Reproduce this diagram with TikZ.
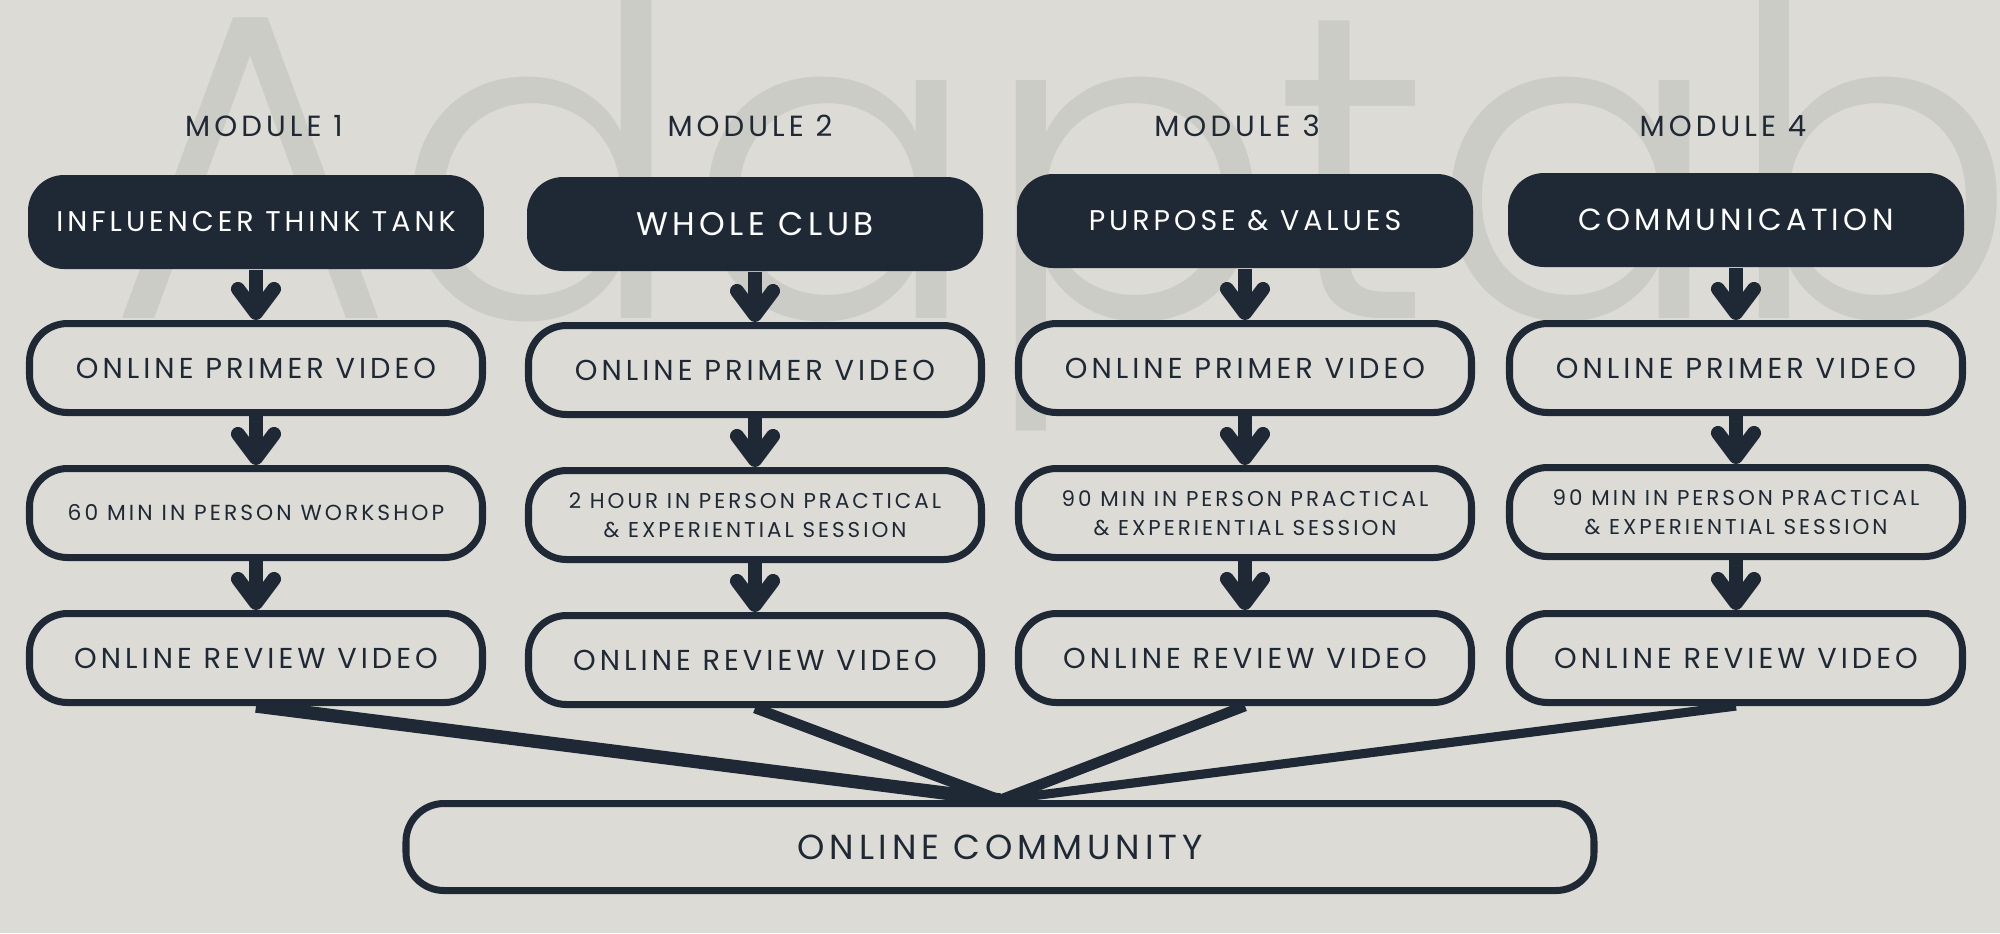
\documentclass[tikz,border=0pt]{standalone}
\usepackage{fontspec}
\setmainfont{Poppins}[LetterSpace=14]
\newfontfamily\markfont{Poppins Light}
\usetikzlibrary{arrows.meta, positioning}
\definecolor{clubnavy}{HTML}{1F2935}
\definecolor{clubpaper}{HTML}{DCDBD6}
\definecolor{clubmark}{HTML}{CBCCC5}

\begin{document}
\begin{tikzpicture}[
    x=0.1mm, y=-0.1mm,
    modtitle/.style={font=\fontsize{8.3pt}{10pt}\selectfont, text=clubnavy},
    topic/.style={fill=clubnavy, text=white, rounded corners=3.6mm, minimum width=45.6mm, minimum height=9.4mm, inner sep=0pt, font=\fontsize{8.1pt}{10pt}\selectfont},
    stepbox/.style={draw=clubnavy, line width=2pt, fill=clubpaper, text=clubnavy, rounded corners=3.8mm, minimum width=45.3mm, minimum height=8.9mm, inner sep=0pt, align=center, font=\fontsize{8.2pt}{10pt}\selectfont},
    smalltext/.style={font=\fontsize{6.1pt}{8.3pt}\selectfont},
    arrow/.style={-{Straight Barb[length=2.4mm, width=3.6mm, round]}, line width=4pt, clubnavy},
    spoke/.style={clubnavy}
]

    % --- PAPER ---
    \fill[clubpaper] (0,0) rectangle (2000,933);
    \useasboundingbox (0,0) rectangle (2000,933);
    \begin{scope}
        \clip (0,0) rectangle (2000,933);
        \node[anchor=base west, inner sep=0pt, text=clubmark, font=\markfont\fontsize{124pt}{124pt}\selectfont] (mark) at (108,318) {Adaptab};
    \end{scope}

    % --- MODULE TITLES ---
    \node[modtitle] (mod1) at (264,126) {MODULE 1};
    \node[modtitle] (mod2) at (750,126) {MODULE 2};
    \node[modtitle] (mod3) at (1237,126) {MODULE 3};
    \node[modtitle] (mod4) at (1723,126) {MODULE 4};

    % --- TOPICS ---
    \node[topic] (topic1) at (256,222) {INFLUENCER THINK TANK};
    \node[topic, font=\fontsize{9.3pt}{11pt}\selectfont] (topic2) at (755,224) {WHOLE CLUB};
    \node[topic] (topic3) at (1245,221) {PURPOSE \& VALUES};
    \node[topic, font=\fontsize{8.7pt}{10pt}\selectfont] (topic4) at (1736,220) {COMMUNICATION};

    % --- PRIMER VIDEOS ---
    \node[stepbox] (primer1) at (256,368) {ONLINE PRIMER VIDEO};
    \node[stepbox] (primer2) at (755,370) {ONLINE PRIMER VIDEO};
    \node[stepbox] (primer3) at (1245,368) {ONLINE PRIMER VIDEO};
    \node[stepbox] (primer4) at (1736,368) {ONLINE PRIMER VIDEO};

    % --- IN PERSON SESSIONS ---
    \node[stepbox, font=\fontsize{6.2pt}{8pt}\selectfont] (session1) at (256,513) {60 MIN IN PERSON WORKSHOP};
    \node[stepbox, smalltext] (session2) at (755,515) {2 HOUR IN PERSON PRACTICAL\\\& EXPERIENTIAL SESSION};
    \node[stepbox, smalltext] (session3) at (1245,513) {90 MIN IN PERSON PRACTICAL\\\& EXPERIENTIAL SESSION};
    \node[stepbox, smalltext] (session4) at (1736,512) {90 MIN IN PERSON PRACTICAL\\\& EXPERIENTIAL SESSION};

    % --- REVIEW VIDEOS ---
    \node[stepbox] (review1) at (256,658) {ONLINE REVIEW VIDEO};
    \node[stepbox] (review2) at (755,660) {ONLINE REVIEW VIDEO};
    \node[stepbox] (review3) at (1245,658) {ONLINE REVIEW VIDEO};
    \node[stepbox] (review4) at (1736,658) {ONLINE REVIEW VIDEO};

    % --- COMMUNITY ---
    \node[stepbox, font=\fontsize{9.9pt}{12pt}\selectfont, minimum width=118.8mm, minimum height=8.7mm] (community) at (1000,847) {ONLINE COMMUNITY};

    % --- ARROWS ---
    \draw[arrow] (topic1.south) -- (primer1.north);
    \draw[arrow] (primer1.south) -- (session1.north);
    \draw[arrow] (session1.south) -- (review1.north);
    \draw[arrow] (topic2.south) -- (primer2.north);
    \draw[arrow] (primer2.south) -- (session2.north);
    \draw[arrow] (session2.south) -- (review2.north);
    \draw[arrow] (topic3.south) -- (primer3.north);
    \draw[arrow] (primer3.south) -- (session3.north);
    \draw[arrow] (session3.south) -- (review3.north);
    \draw[arrow] (topic4.south) -- (primer4.north);
    \draw[arrow] (primer4.south) -- (session4.north);
    \draw[arrow] (session4.south) -- (review4.north);

    % --- SPOKES ---
    \draw[spoke, line width=3.8pt] (review1.south) -- (community.north);
    \draw[spoke, line width=3pt] (review2.south) -- (community.north);
    \draw[spoke, line width=3pt] (review3.south) -- (community.north);
    \draw[spoke, line width=2.6pt] (review4.south) -- (community.north);

\end{tikzpicture}
\end{document}
